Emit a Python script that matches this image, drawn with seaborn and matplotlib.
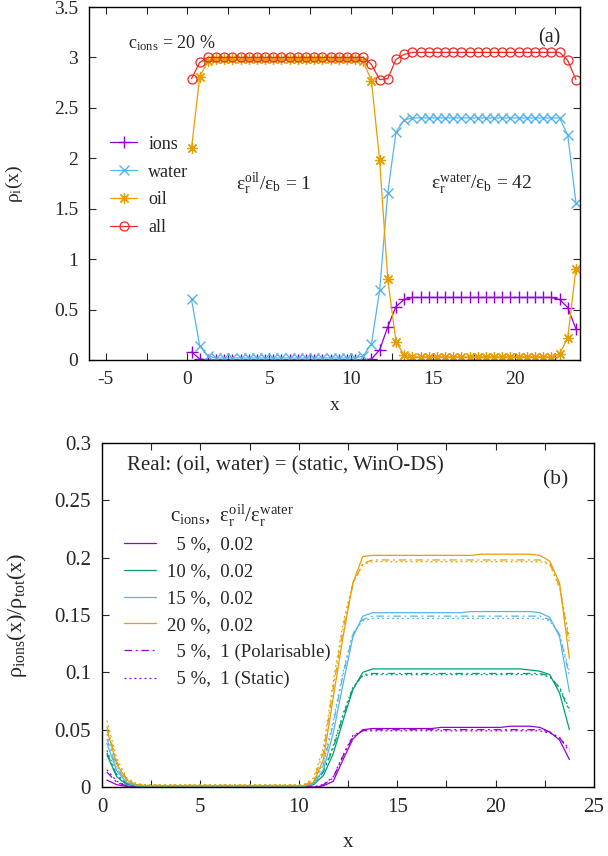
import numpy as np
import pandas as pd
import matplotlib
matplotlib.use("Agg")
import matplotlib.pyplot as plt
import seaborn as sns
from matplotlib.lines import Line2D
from matplotlib.ticker import MultipleLocator

sns.set_style("ticks")
plt.rcParams['font.family'] = ['Liberation Serif', 'DejaVu Serif']
plt.rcParams['mathtext.fontset'] = 'custom'
plt.rcParams['mathtext.rm'] = 'Liberation Serif'
plt.rcParams['mathtext.it'] = 'Liberation Serif:italic'
plt.rcParams['axes.unicode_minus'] = False
plt.rcParams['font.size'] = 13

# === DATA ===
# sample positions (same grid for both panels)
x = [0.25, 0.75, 1.25, 1.75, 2.25, 2.75, 3.25, 3.75, 4.25, 4.75, 5.25, 5.75,
     6.25, 6.75, 7.25, 7.75, 8.25, 8.75, 9.25, 9.75, 10.25, 10.75, 11.25, 11.75,
     12.25, 12.75, 13.25, 13.75, 14.25, 14.75, 15.25, 15.75, 16.25, 16.75, 17.25, 17.75,
     18.25, 18.75, 19.25, 19.75, 20.25, 20.75, 21.25, 21.75, 22.25, 22.75, 23.25, 23.75]

# (a) densities, c_ions = 20 %
rho_ions = [0.08, 0.01] + [0.0] * 20 + [0.01, 0.10, 0.33, 0.53, 0.60] + [0.62] * 18 + [0.60, 0.52, 0.31]
rho_water = [0.60, 0.14, 0.04] + [0.02] * 18 + [0.04, 0.16, 0.69, 1.66, 2.26, 2.38] + [2.40] * 19 + [2.23, 1.56]
rho_oil = [2.10, 2.81, 2.96] + [2.98] * 18 + [2.96, 2.77, 1.98, 0.80, 0.18, 0.05] + [0.03] * 18 + [0.06, 0.22, 0.90]
rho_all = [2.79, 2.95] + [3.00] * 20 + [2.93, 2.78, 2.79, 2.98, 3.03] + [3.05] * 19 + [2.97, 2.78]

# (b) ion fraction; solid = eps ratio 0.02, dashdot = 1 (Polarisable), dotted = 1 (Static)
c5_solid = [0.006, 0.002, 0.0005, 0.0002] + [0.0] * 17 + [0.0, 0.001, 0.005, 0.024, 0.042, 0.050] \
    + [0.051] * 7 + [0.052] * 7 + [0.053] * 3 + [0.052] + [0.048, 0.041, 0.024]
c5_pol = [0.013, 0.004, 0.001, 0.0003] + [0.0] * 17 + [0.0, 0.002, 0.008, 0.027, 0.044, 0.049] \
    + [0.050] * 18 + [0.048, 0.043, 0.031]
c5_sta = [0.015, 0.005, 0.001, 0.0003] + [0.0] * 17 + [0.0, 0.002, 0.009, 0.028, 0.045, 0.049] \
    + [0.049] * 18 + [0.047, 0.043, 0.033]
c10_solid = [0.028, 0.009, 0.002, 0.001] + [0.0005] * 17 + [0.002, 0.010, 0.029, 0.058, 0.085, 0.100] \
    + [0.103] * 16 + [0.102, 0.101] + [0.098, 0.082, 0.050]
c10_pol = [0.030, 0.010, 0.003, 0.001] + [0.0005] * 17 + [0.003, 0.013, 0.034, 0.062, 0.086, 0.098] \
    + [0.099] * 18 + [0.097, 0.086, 0.066]
c10_sta = [0.032, 0.011, 0.003, 0.001] + [0.0007] * 17 + [0.003, 0.014, 0.036, 0.064, 0.087, 0.097] \
    + [0.098] * 18 + [0.096, 0.087, 0.068]
c15_solid = [0.038, 0.014, 0.004, 0.001] + [0.0008] * 17 + [0.003, 0.015, 0.047, 0.090, 0.131, 0.149] \
    + [0.152] * 10 + [0.153] * 7 + [0.152] + [0.148, 0.131, 0.083]
c15_pol = [0.042, 0.016, 0.005, 0.001] + [0.001] * 17 + [0.004, 0.019, 0.055, 0.098, 0.133, 0.146] \
    + [0.149] * 18 + [0.146, 0.133, 0.097]
c15_sta = [0.046, 0.018, 0.005, 0.002] + [0.001] * 17 + [0.004, 0.021, 0.058, 0.101, 0.134, 0.145] \
    + [0.147] * 18 + [0.145, 0.133, 0.101]
c20_solid = [0.050, 0.020, 0.006, 0.002] + [0.001] * 17 + [0.004, 0.024, 0.078, 0.131, 0.178, 0.201] \
    + [0.202] * 11 + [0.203] * 6 + [0.202] + [0.197, 0.178, 0.112]
c20_pol = [0.053, 0.022, 0.007, 0.002] + [0.0015] * 17 + [0.006, 0.030, 0.086, 0.138, 0.177, 0.195] \
    + [0.198] * 18 + [0.195, 0.175, 0.125]
c20_sta = [0.058, 0.025, 0.008, 0.003] + [0.002] * 17 + [0.008, 0.034, 0.092, 0.143, 0.178, 0.194] \
    + [0.1965] * 18 + [0.194, 0.174, 0.130]

conc_labels = ["  5 %,  0.02", "10 %,  0.02", "15 %,  0.02", "20 %,  0.02"]

PURPLE, GREEN, BLUE, ORANGE, RED = "#9400d3", "#009e73", "#56b4e9", "#e69f00", "#ee2a24"

fig = plt.figure(figsize=(6.08, 8.56), dpi=100)
ax1 = fig.add_axes([89.3 / 608, 1 - 360 / 856, 490.7 / 608, 353 / 856])
ax2 = fig.add_axes([102 / 608, 1 - 787 / 856, 492 / 608, 344 / 856])

# === (a) ===
lw = 0.9
top = [
    (rho_ions, PURPLE, "+", "ions", dict(ms=8, mew=1.0)),
    (rho_water, BLUE, "x", "water", dict(ms=6.5, mew=1.0)),
    (rho_oil, ORANGE, (8, 2, 0), "oil", dict(ms=8, mew=0.9)),
    (rho_all, RED, "o", "all", dict(ms=6.5, mew=0.9, mfc="none")),
]
handles = []
for vals, col, mk, lab, mkw in top:
    sns.lineplot(x=x, y=vals, ax=ax1, color=col, marker=mk, lw=lw, mec=col, **mkw)
    handles.append(Line2D([], [], color=col, marker=mk, lw=lw, mec=col, label=lab, **mkw))

ax1.set_xlim(-6, 24)
ax1.set_ylim(0, 3.5)
ax1.xaxis.set_major_locator(MultipleLocator(5))
ax1.xaxis.set_minor_locator(MultipleLocator(2.5))
ax1.yaxis.set_major_locator(MultipleLocator(0.5))
ax1.set_yticklabels([f"{v:g}" for v in ax1.get_yticks()])
ax1.legend(handles=handles, loc="center left", bbox_to_anchor=(0.043, 0.493), frameon=False,
           handlelength=1.5, handletextpad=0.6, labelspacing=0.6, borderpad=0, borderaxespad=0,
           numpoints=1, fontsize=13)
ax1.text(-3.65, 3.09, "c$_\\mathrm{ions}$ = 20 %", ha="left", va="baseline", fontsize=13)
ax1.text(22.82, 3.146, "(a)", ha="right", va="baseline", fontsize=14.5)
ax1.text(2.96, 1.685, "ε$_\\mathrm{r}^\\mathrm{oil}$/ε$_\\mathrm{b}$ = 1", ha="left", va="baseline",
         fontsize=14)
ax1.text(14.9, 1.685, "ε$_\\mathrm{r}^\\mathrm{water}$/ε$_\\mathrm{b}$ = 42", ha="left", va="baseline",
         fontsize=14)
ax1.set_xlabel("x", fontsize=14)
ax1.set_ylabel("ρ$_\\mathrm{i}$(x)", fontsize=14)
ax1.xaxis.set_label_coords(0.5, -0.105)
ax1.yaxis.set_label_coords(-0.131, 0.5)

# === (b) ===
bottom = [
    (c5_solid, c5_pol, c5_sta, PURPLE),
    (c10_solid, c10_pol, c10_sta, GREEN),
    (c15_solid, c15_pol, c15_sta, BLUE),
    (c20_solid, c20_pol, c20_sta, ORANGE),
]
dashdot = (6, 3, 1.5, 3)
dotted = (1.5, 2.5)
hb = []
for (s, p, st, col), lab in zip(bottom, conc_labels):
    sns.lineplot(x=x, y=s, ax=ax2, color=col, lw=lw)
    sns.lineplot(x=x, y=p, ax=ax2, color=col, lw=lw, dashes=False, linestyle=(0, dashdot))
    sns.lineplot(x=x, y=st, ax=ax2, color=col, lw=lw, dashes=False, linestyle=(0, dotted))
    hb.append(Line2D([], [], color=col, lw=lw, label=lab))
hb.append(Line2D([], [], color=PURPLE, lw=lw, linestyle=(0, dashdot), label="  5 %,  1 (Polarisable)"))
hb.append(Line2D([], [], color=PURPLE, lw=lw, linestyle=(0, dotted), label="  5 %,  1 (Static)"))

ax2.set_xlim(0, 25)
ax2.set_ylim(0, 0.3)
ax2.xaxis.set_major_locator(MultipleLocator(5))
ax2.xaxis.set_minor_locator(MultipleLocator(2.5))
ax2.yaxis.set_major_locator(MultipleLocator(0.05))
ax2.set_yticklabels([f"{v:g}" for v in ax2.get_yticks()])
ax2.legend(handles=hb, loc="center left", bbox_to_anchor=(0.045, 0.508), frameon=False,
           handlelength=1.7, handletextpad=0.6, labelspacing=0.52, borderpad=0, borderaxespad=0,
           fontsize=13.5)
ax2.text(0.0498, 0.9215, "Real: (oil, water) = (static, WinO-DS)", transform=ax2.transAxes,
         ha="left", va="baseline", fontsize=15)
ax2.text(0.948, 0.878, "(b)", transform=ax2.transAxes, ha="right", va="baseline", fontsize=15.5)
ax2.text(0.138, 0.770, "c$_\\mathrm{ions}$,  ε$_\\mathrm{r}^\\mathrm{oil}$/ε$_\\mathrm{r}^\\mathrm{water}$",
         transform=ax2.transAxes, ha="left", va="baseline", fontsize=15)
ax2.set_xlabel("x", fontsize=15)
ax2.set_ylabel("ρ$_\\mathrm{ions}$(x)/ρ$_\\mathrm{tot}$(x)", fontsize=16)
ax2.xaxis.set_label_coords(0.5, -0.135)
ax2.yaxis.set_label_coords(-0.148, 0.5)

for ax, fs in ((ax1, 14), (ax2, 15)):
    ax.tick_params(which="both", direction="in", top=True, right=True, length=5, width=0.8,
                   labelsize=fs)
    ax.tick_params(axis="y", pad=8)
    ax.tick_params(axis="x", pad=8)
    for sp in ax.spines.values():
        sp.set_linewidth(1.0)
        sp.set_color("black")

fig.savefig("out.png", dpi=100)
